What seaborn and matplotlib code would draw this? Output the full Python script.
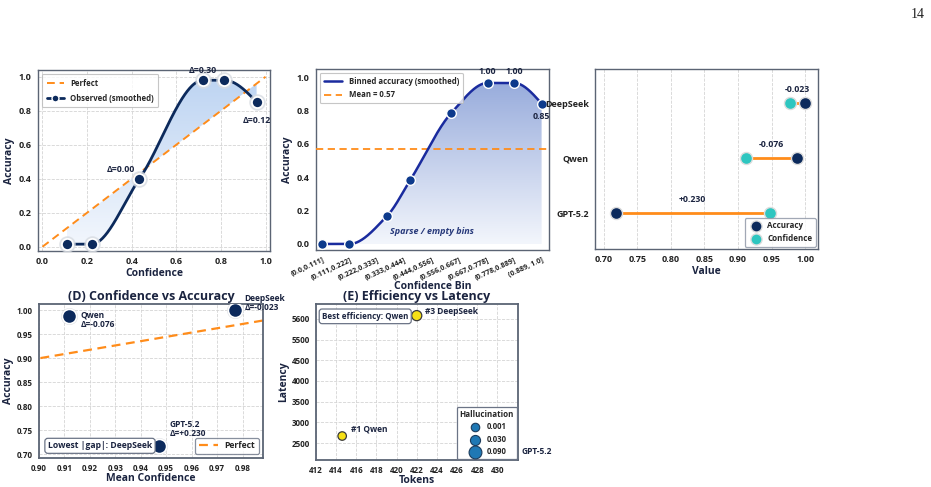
import numpy as np
import pandas as pd
import matplotlib
matplotlib.use("Agg")
import matplotlib.pyplot as plt
import seaborn as sns
from matplotlib.colors import LinearSegmentedColormap
from matplotlib.lines import Line2D

# ---------------- data ----------------
# (A) reliability curve
cal_conf = [0.11, 0.22, 0.435, 0.72, 0.815, 0.96]
cal_acc = [0.015, 0.015, 0.40, 0.98, 0.98, 0.85]
cal_notes = ["", "", "Δ=0.00", "Δ=0.30", "", "Δ=0.12"]

# (B) binned accuracy
bin_labels = ["(0.0,0.111]", "(0.111,0.222]", "(0.222,0.333]", "(0.333,0.444]",
              "(0.444,0.556]", "(0.556,0.667]", "(0.667,0.778]", "(0.778,0.889]",
              "(0.889, 1.0]"]
bin_pos = [0.0, 1.0, 2.38, 3.22, 4.71, 6.03, 7.0, 8.0]
bin_acc = [0.0, 0.0, 0.17, 0.385, 0.786, 0.966, 0.966, 0.842]
bin_notes = ["", "", "", "", "", "1.00", "1.00", "0.85"]
mean_acc = 0.57

# (C)/(D) models
models = ["GPT-5.2", "Qwen", "DeepSeek"]
accuracy = [0.718, 0.988, 1.000]
confidence = [0.947, 0.912, 0.977]
gap_labels = ["+0.230", "-0.076", "-0.023"]

# (E) efficiency
tokens = [431.0, 414.6, 422.0]
latency = [2150, 2670, 5580]
hallucination = [0.090, 0.001, 0.030]
point_labels = ["GPT-5.2", "#1 Qwen", "#3 DeepSeek"]
lat_ticks = [2500, 3000, 3500, 4000, 4500, 5000, 5500]
lat_tick_labels = ["2500", "3000", "3500", "4000", "4500", "5500", "5600"]
tok_ticks = [412, 414, 416, 418, 420, 422, 424, 426, 428, 430]

# ---------------- style ----------------
sns.set_style("white")
plt.rcParams["font.family"] = ["Open Sans", "DejaVu Sans"]
plt.rcParams["font.weight"] = "bold"
plt.rcParams["axes.labelweight"] = "bold"
plt.rcParams["axes.titleweight"] = "bold"

NAVY = "#0c2a5c"
ORANGE = "#ff8c1a"
CYAN = "#2ec6c0"
TXT = "#1b2440"
SPINE = "#5b6474"
GRID = "#d4d4d4"


def pchip(x, y, xs):
    x = np.asarray(x, float)
    y = np.asarray(y, float)
    h = np.diff(x)
    d = np.diff(y) / h
    n = len(x)
    m = np.zeros(n)
    for k in range(1, n - 1):
        if d[k - 1] * d[k] > 0:
            w1 = 2 * h[k] + h[k - 1]
            w2 = h[k] + 2 * h[k - 1]
            m[k] = (w1 + w2) / (w1 / d[k - 1] + w2 / d[k])
    m0 = ((2 * h[0] + h[1]) * d[0] - h[0] * d[1]) / (h[0] + h[1])
    m[0] = 0 if np.sign(m0) != np.sign(d[0]) else m0
    mn = ((2 * h[-1] + h[-2]) * d[-1] - h[-1] * d[-2]) / (h[-1] + h[-2])
    m[-1] = 0 if np.sign(mn) != np.sign(d[-1]) else mn
    xs = np.asarray(xs, float)
    idx = np.clip(np.searchsorted(x, xs) - 1, 0, n - 2)
    t = (xs - x[idx]) / h[idx]
    h00 = 2 * t**3 - 3 * t**2 + 1
    h10 = t**3 - 2 * t**2 + t
    h01 = -2 * t**3 + 3 * t**2
    h11 = t**3 - t**2
    return h00 * y[idx] + h10 * h[idx] * m[idx] + h01 * y[idx + 1] + h11 * h[idx] * m[idx + 1]


def style_axes(ax, grid="both", size=6.5):
    for s in ax.spines.values():
        s.set_color(SPINE)
        s.set_linewidth(1.0)
    ax.tick_params(axis="both", labelsize=size, colors="#222222", length=3, width=0.8,
                   pad=1.5)
    for lab in ax.get_xticklabels() + ax.get_yticklabels():
        lab.set_fontweight("bold")
    if grid:
        ax.grid(True, axis=grid, linestyle="--", color=GRID, linewidth=0.6)
        ax.set_axisbelow(True)


def gradient_fill(ax, xs, y_low, y_high, c_low, c_high, vmin, vmax):
    poly = ax.fill_between(xs, y_low, y_high, color="none", lw=0)
    grad = np.linspace(0, 1, 256).reshape(-1, 1)
    cmap = LinearSegmentedColormap.from_list("g", [c_low, c_high])
    im = ax.imshow(grad, extent=[xs[0], xs[-1], vmin, vmax], origin="lower",
                   aspect="auto", cmap=cmap, zorder=1, interpolation="bilinear")
    im.set_clip_path(poly.get_paths()[0], transform=ax.transData)


fig = plt.figure(figsize=(9.31, 4.87), dpi=100)
fig.patch.set_facecolor("white")

axA = fig.add_axes([0.0408, 0.4846, 0.2492, 0.3717])
axB = fig.add_axes([0.3394, 0.4867, 0.2503, 0.3717])
axC = fig.add_axes([0.6391, 0.4887, 0.2395, 0.3696])
axD = fig.add_axes([0.0418, 0.0595, 0.2407, 0.3162])
axE = fig.add_axes([0.3394, 0.0554, 0.2170, 0.3203])

# ---------------- (A) ----------------
xsA = np.linspace(cal_conf[0], cal_conf[-1], 400)
ysA = pchip(cal_conf, cal_acc, xsA)
gradient_fill(axA, xsA, ysA, xsA, "#f3f7fd", "#bdd4f2", 0, 1)
sns.lineplot(x=[0, 1], y=[0, 1], ax=axA, color=ORANGE, lw=1.4, linestyle="--", zorder=3)
axA.lines[-1].set_dashes([4, 2.5])
sns.lineplot(x=xsA, y=ysA, ax=axA, color=NAVY, lw=2.0, zorder=4)
axA.plot(cal_conf, cal_acc, "o", ms=11, color="#d9dde3", alpha=0.7, zorder=4.5)
axA.plot(cal_conf, cal_acc, "o", ms=8, color=NAVY, mec="white", mew=1.3, zorder=5)
offsA = {"Δ=0.00": (-3, 7, "right"), "Δ=0.30": (0, 7, "center"), "Δ=0.12": (0, -13, "center")}
for x, y, t in zip(cal_conf, cal_acc, cal_notes):
    if t:
        dx, dy, ha = offsA[t]
        axA.annotate(t, (x, y), xytext=(dx, dy), textcoords="offset points", ha=ha,
                     va="center", fontsize=6.3, fontweight="bold", color=TXT, zorder=6)
axA.set_xlim(-0.02, 1.02)
axA.set_ylim(-0.025, 1.04)
axA.set_xticks([0, 0.2, 0.4, 0.6, 0.8, 1.0])
axA.set_yticks([0, 0.2, 0.4, 0.6, 0.8, 1.0])
axA.set_xlabel("Confidence", fontsize=7.5, color=TXT, labelpad=1)
axA.set_ylabel("Accuracy", fontsize=7.5, color=TXT, labelpad=3)
style_axes(axA)
hA = [Line2D([], [], color=ORANGE, lw=1.4, linestyle="--", dashes=[4, 2.5]),
      Line2D([], [], color=NAVY, lw=2.0, marker="o", ms=5, mec="white")]
legA = axA.legend(hA, ["Perfect", "Observed (smoothed)"], loc="upper left", fontsize=5.6,
                  frameon=True, fancybox=True, edgecolor="#b8b8b8", borderpad=0.6,
                  labelspacing=0.8, handlelength=2.2)
legA.get_frame().set_linewidth(0.8)
for t in legA.get_texts():
    t.set_fontweight("bold")

# ---------------- (B) ----------------
xsB = np.linspace(bin_pos[0], bin_pos[-1], 500)
ysB = pchip(bin_pos, bin_acc, xsB)
gradient_fill(axB, xsB, 0, ysB, "#f3f6fc", "#98acdc", 0, max(ysB))
sns.lineplot(x=xsB, y=ysB, ax=axB, color="#1a2b9e", lw=1.8, zorder=4)
axB.axhline(mean_acc, color=ORANGE, lw=1.3, linestyle="--", dashes=[4, 2.5], zorder=3)
axB.plot(bin_pos, bin_acc, "o", ms=7, color="#0d3a8c", mec="white", mew=1.0, zorder=5)
for x, y, t in zip(bin_pos, bin_acc, bin_notes):
    if t:
        dy = 8 if t == "1.00" else -9
        axB.annotate(t, (x, y), xytext=(0, dy), textcoords="offset points", ha="center",
                     va="center", fontsize=6.3, fontweight="bold", color=TXT, zorder=6)
axB.text(4.0, 0.075, "Sparse / empty bins", ha="center", va="center", fontsize=6.5,
         style="italic", fontweight="bold", color="#27397a", zorder=6)
axB.set_xlim(-0.22, 8.27)
axB.set_ylim(-0.036, 1.05)
axB.set_xticks(range(len(bin_labels)))
axB.set_xticklabels(bin_labels)
axB.set_yticks([0, 0.2, 0.4, 0.6, 0.8, 1.0])
axB.set_xlabel("Confidence Bin", fontsize=7.5, color=TXT, labelpad=0)
axB.set_ylabel("Accuracy", fontsize=7.5, color=TXT, labelpad=3)
style_axes(axB, grid=None)
axB.tick_params(axis="x", labelsize=5.2, pad=1)
for lab in axB.get_xticklabels():
    lab.set_rotation(25)
    lab.set_ha("right")
    lab.set_rotation_mode("anchor")
hB = [Line2D([], [], color="#1a2b9e", lw=1.8),
      Line2D([], [], color=ORANGE, lw=1.3, linestyle="--", dashes=[4, 2.5])]
legB = axB.legend(hB, ["Binned accuracy (smoothed)", "Mean = 0.57"], loc="upper left",
                  fontsize=5.6, frameon=True, fancybox=True, edgecolor="#b8b8b8",
                  borderpad=0.5, labelspacing=0.6, handlelength=2.4)
legB.get_frame().set_linewidth(0.8)
for t in legB.get_texts():
    t.set_fontweight("bold")

# ---------------- (C) ----------------
dfC = pd.DataFrame({"model": models, "Accuracy": accuracy, "Confidence": confidence})
for m, a, c, g in zip(models, accuracy, confidence, gap_labels):
    axC.plot([a, c], [m, m], color=ORANGE, lw=2.0, zorder=2)
sns.scatterplot(data=dfC, x="Accuracy", y="model", ax=axC, color=NAVY, s=75,
                edgecolor="#dddddd", linewidth=1.0, zorder=4, legend=False)
sns.scatterplot(data=dfC, x="Confidence", y="model", ax=axC, color=CYAN, s=75,
                edgecolor="#dddddd", linewidth=1.0, zorder=4, legend=False)
for i, (a, c, g) in enumerate(zip(accuracy, confidence, gap_labels)):
    axC.annotate(g, ((a + c) / 2, i), xytext=(0, 10), textcoords="offset points",
                 ha="center", va="center", fontsize=6.3, fontweight="bold", color=TXT)
axC.set_xlim(0.687, 1.019)
axC.set_ylim(-0.65, 2.62)
axC.set_xticks([0.70, 0.75, 0.80, 0.85, 0.90, 0.95, 1.00])
axC.set_xticklabels([f"{v:.2f}" for v in axC.get_xticks()])
axC.set_xlabel("Value", fontsize=7.5, color=TXT, labelpad=1)
axC.set_ylabel("")
style_axes(axC, grid="x")
hC = [Line2D([], [], color=NAVY, marker="o", ls="", ms=8, mec="#dddddd"),
      Line2D([], [], color=CYAN, marker="o", ls="", ms=8, mec="#dddddd")]
legC = axC.legend(hC, ["Accuracy", "Confidence"], loc="lower right", fontsize=5.8,
                  frameon=True, fancybox=True, edgecolor="#8a93a3", borderpad=0.4,
                  labelspacing=0.5, handletextpad=0.4, borderaxespad=0.3)
legC.get_frame().set_linewidth(0.9)
for t in legC.get_texts():
    t.set_fontweight("bold")

# ---------------- (D) ----------------
dfD = pd.DataFrame({"model": models, "conf": confidence, "acc": accuracy})
sns.lineplot(x=[0.895, 0.99], y=[0.895, 0.98], ax=axD, color=ORANGE, lw=1.6, zorder=2)
axD.lines[-1].set_dashes([4, 2.5])
axD.scatter(confidence, accuracy, s=150, color="#c8ccd3", alpha=0.6, zorder=3, lw=0)
sns.scatterplot(data=dfD, x="conf", y="acc", ax=axD, color=NAVY, s=105,
                edgecolor="white", linewidth=1.2, zorder=4, legend=False)
offD = {"GPT-5.2": (8, 12), "Qwen": (8, -3), "DeepSeek": (7, 5)}
for m, c, a, g in zip(models, confidence, accuracy, gap_labels):
    dx, dy = offD[m]
    axD.annotate(f"{m}\nΔ={g}", (c, a), xytext=(dx, dy), textcoords="offset points",
                 ha="left", va="center", fontsize=6.0, fontweight="bold", color=TXT,
                 linespacing=1.1, zorder=6)
axD.set_xlim(0.90, 0.988)
axD.set_ylim(0.692, 1.0125)
axD.set_xticks([0.90, 0.91, 0.92, 0.93, 0.94, 0.95, 0.96, 0.97, 0.98])
axD.set_xticklabels([f"{v:.2f}" for v in axD.get_xticks()])
axD.set_yticks([0.70, 0.75, 0.80, 0.85, 0.90, 0.95, 1.00])
axD.set_yticklabels([f"{v:.2f}" for v in axD.get_yticks()])
axD.set_xlabel("Mean Confidence", fontsize=7.5, color=TXT, labelpad=0)
axD.set_ylabel("Accuracy", fontsize=7.5, color=TXT, labelpad=2)
axD.set_title("(D) Confidence vs Accuracy", fontsize=9, color=TXT, pad=3)
style_axes(axD, size=5.8)
for s in axD.spines.values():
    s.set_linewidth(1.3)
axD.text(0.04, 0.05, "Lowest |gap|: DeepSeek", transform=axD.transAxes, fontsize=6.2,
         fontweight="bold", color=TXT, ha="left", va="bottom", zorder=7,
         bbox=dict(boxstyle="round,pad=0.35", fc="white", ec="#6b7486", lw=0.9))
hD = [Line2D([], [], color=ORANGE, lw=1.6, linestyle="--", dashes=[4, 2.5])]
legD = axD.legend(hD, ["Perfect"], loc="lower right", fontsize=6.2, frameon=True,
                  fancybox=True, edgecolor="#6b7486", borderpad=0.4, handlelength=2.2,
                  borderaxespad=0.5)
legD.get_frame().set_linewidth(0.9)
for t in legD.get_texts():
    t.set_fontweight("bold")

# ---------------- (E) ----------------
def hsize(h):
    return 32 + 470 * h

dfE = pd.DataFrame({"tokens": tokens, "latency": latency, "hall": hallucination,
                    "label": point_labels})
sns.scatterplot(data=dfE, x="tokens", y="latency", ax=axE, color="#f6e015",
                s=[hsize(h) * 1.15 for h in hallucination], edgecolor="#3a3a3a",
                linewidth=0.9, zorder=3, legend=False)
offE = {"#1 Qwen": (6, 5), "#3 DeepSeek": (6, 3), "GPT-5.2": (10, 4)}
for x, y, t in zip(tokens, latency, point_labels):
    dx, dy = offE[t]
    axE.annotate(t, (x, y), xytext=(dx, dy), textcoords="offset points", ha="left",
                 va="center", fontsize=6.0, fontweight="bold", color=TXT, zorder=3)
axE.set_xlim(412, 432.05)
axE.set_ylim(2090, 5860)
axE.set_xticks(tok_ticks)
axE.set_xticklabels([str(v) for v in tok_ticks])
axE.set_yticks(lat_ticks)
axE.set_yticklabels(lat_tick_labels)
axE.set_xlabel("Tokens", fontsize=7.5, color=TXT, labelpad=0)
axE.set_ylabel("Latency", fontsize=7.5, color=TXT, labelpad=2)
axE.set_title("(E) Efficiency vs Latency", fontsize=9, color=TXT, pad=3)
style_axes(axE, size=5.8)
for s in axE.spines.values():
    s.set_linewidth(1.3)
axE.text(0.03, 0.95, "Best efficiency: Qwen", transform=axE.transAxes, fontsize=5.8,
         fontweight="bold", color=TXT, ha="left", va="top", zorder=7,
         bbox=dict(boxstyle="round,pad=0.35", fc="white", ec="#6b7486", lw=0.9))
leg_vals = [0.001, 0.030, 0.090]
hE = [axE.scatter([], [], s=hsize(v) * 1.15, color="#1f78b4", edgecolor="#1d3c5c", lw=0.8)
      for v in leg_vals]
legE = axE.legend(hE, [f"{v:.3f}" for v in leg_vals], title="Hallucination",
                  loc="lower right", fontsize=5.6, title_fontsize=5.8, frameon=True,
                  fancybox=True, edgecolor="#6b7486", borderpad=0.4, labelspacing=0.45,
                  handletextpad=0.4, borderaxespad=0.1, framealpha=1.0)
legE.get_frame().set_linewidth(0.9)
legE.get_title().set_fontweight("bold")
for t in legE.get_texts():
    t.set_fontweight("bold")
legE.set_zorder(10)

# page number
fig.text(0.986, 0.971, "14", ha="center", va="center", fontsize=10,
         family="Liberation Serif", fontweight="normal", color="#222222")

fig.savefig("out.png", dpi=100, facecolor="white")
